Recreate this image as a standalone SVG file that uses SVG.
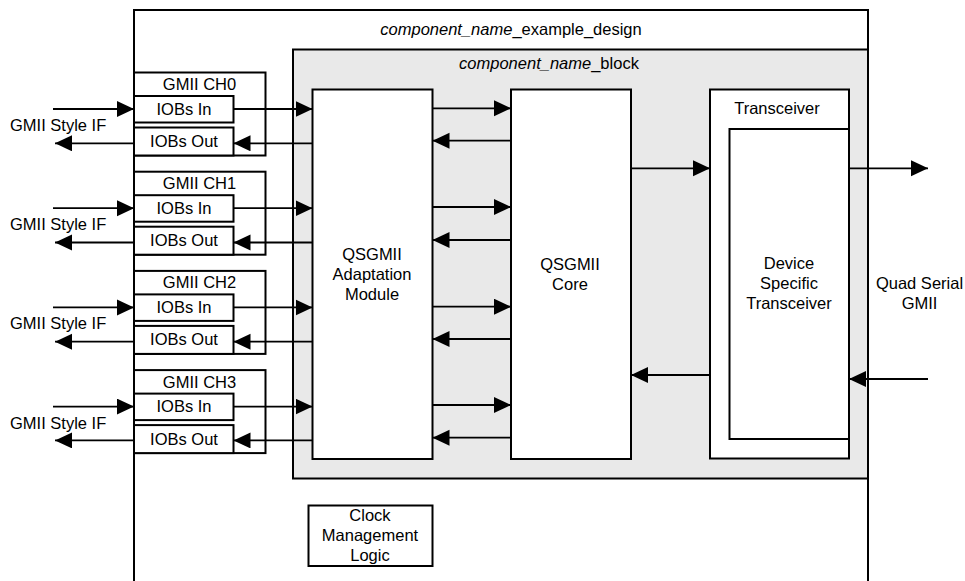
<svg xmlns="http://www.w3.org/2000/svg" width="965" height="581" viewBox="0 0 965 581">
<style>
.box{fill:#fff;stroke:#000;stroke-width:2}
.blk{fill:#e9e9e9;stroke:#000;stroke-width:2}
.t{font-family:"Liberation Sans",Arial,sans-serif;font-size:16.5px;fill:#000}
.c{text-anchor:middle}
.i{font-style:italic}
.w{stroke:#000;stroke-width:1.8;fill:none;marker-end:url(#ah)}
</style>
<defs>
<marker id="ah" markerUnits="userSpaceOnUse" markerWidth="18" markerHeight="17" refX="17" refY="8" orient="auto">
<path d="M0,0 L17,8 L0,16 Z" fill="#000"/>
</marker>
</defs>
<rect width="965" height="581" fill="#fff"/>
<g id="example_design">
<path d="M134,581 V10 H868 V581" fill="none" stroke="#000" stroke-width="2"/>
<text class="t c" x="511" y="34.5"><tspan class="i">component_name</tspan>_example_design</text>
</g>
<g id="block">
<rect class="blk" x="293" y="49.5" width="575" height="429"/>
<text class="t c" x="549" y="68.5"><tspan class="i">component_name</tspan>_block</text>
</g>
<g id="adaptation">
<rect class="box" x="312.5" y="89.5" width="120" height="369.5"/>
<text class="t c" x="372" y="260">QSGMII</text>
<text class="t c" x="372" y="280">Adaptation</text>
<text class="t c" x="372" y="300">Module</text>
</g>
<g id="core">
<rect class="box" x="511" y="89.5" width="120" height="369.5"/>
<text class="t c" x="570" y="270">QSGMII</text>
<text class="t c" x="570" y="290">Core</text>
</g>
<g id="transceiver">
<rect class="box" x="710" y="89.5" width="139" height="369"/>
<text class="t c" x="777" y="114">Transceiver</text>
</g>
<g id="device">
<rect class="box" x="729.5" y="129" width="119.5" height="310"/>
<text class="t c" x="789" y="269">Device</text>
<text class="t c" x="789" y="289">Specific</text>
<text class="t c" x="789" y="309">Transceiver</text>
</g>
<g id="clock">
<rect class="box" x="308.5" y="505.5" width="124" height="60.5"/>
<text class="t c" x="370" y="521">Clock</text>
<text class="t c" x="370" y="541">Management</text>
<text class="t c" x="370" y="561">Logic</text>
</g>
<g id="ch0">
<rect class="box" x="134" y="72.5" width="131.5" height="83"/>
<text class="t c" x="199.5" y="90">GMII CH0</text>
<rect class="box" x="134" y="96" width="99.5" height="26.5"/>
<text class="t c" x="184" y="114.5">IOBs In</text>
<rect class="box" x="134" y="127.5" width="99.5" height="28"/>
<text class="t c" x="184" y="147">IOBs Out</text>
</g>
<g id="ch1">
<rect class="box" x="134" y="171.7" width="131.5" height="83"/>
<text class="t c" x="199.5" y="189.2">GMII CH1</text>
<rect class="box" x="134" y="195.2" width="99.5" height="26.5"/>
<text class="t c" x="184" y="213.7">IOBs In</text>
<rect class="box" x="134" y="226.7" width="99.5" height="28"/>
<text class="t c" x="184" y="246.2">IOBs Out</text>
</g>
<g id="ch2">
<rect class="box" x="134" y="270.9" width="131.5" height="83"/>
<text class="t c" x="199.5" y="288.4">GMII CH2</text>
<rect class="box" x="134" y="294.4" width="99.5" height="26.5"/>
<text class="t c" x="184" y="312.9">IOBs In</text>
<rect class="box" x="134" y="325.9" width="99.5" height="28"/>
<text class="t c" x="184" y="345.4">IOBs Out</text>
</g>
<g id="ch3">
<rect class="box" x="134" y="370.1" width="131.5" height="83"/>
<text class="t c" x="199.5" y="387.6">GMII CH3</text>
<rect class="box" x="134" y="393.6" width="99.5" height="26.5"/>
<text class="t c" x="184" y="412.1">IOBs In</text>
<rect class="box" x="134" y="425.1" width="99.5" height="28"/>
<text class="t c" x="184" y="444.6">IOBs Out</text>
</g>
<g id="labels">
<text class="t" x="10" y="131">GMII Style IF</text>
<text class="t" x="10" y="230.2">GMII Style IF</text>
<text class="t" x="10" y="329.4">GMII Style IF</text>
<text class="t" x="10" y="428.6">GMII Style IF</text>
<text class="t c" x="919.5" y="289">Quad Serial</text>
<text class="t c" x="919.5" y="309">GMII</text>
</g>
<g id="connectors">
<path class="w" d="M53,109 H134"/>
<path class="w" d="M134,143.3 H55"/>
<path class="w" d="M233.5,109 H312.5"/>
<path class="w" d="M312.5,143.3 H233.5"/>
<path class="w" d="M53,208.2 H134"/>
<path class="w" d="M134,242.5 H55"/>
<path class="w" d="M233.5,208.2 H312.5"/>
<path class="w" d="M312.5,242.5 H233.5"/>
<path class="w" d="M53,307.4 H134"/>
<path class="w" d="M134,341.7 H55"/>
<path class="w" d="M233.5,307.4 H312.5"/>
<path class="w" d="M312.5,341.7 H233.5"/>
<path class="w" d="M53,406.6 H134"/>
<path class="w" d="M134,440.4 H55"/>
<path class="w" d="M233.5,406.6 H312.5"/>
<path class="w" d="M312.5,440.4 H233.5"/>
<path class="w" d="M432.5,108.3 H511"/>
<path class="w" d="M511,140.7 H432.5"/>
<path class="w" d="M432.5,207 H511"/>
<path class="w" d="M511,240 H432.5"/>
<path class="w" d="M432.5,306.7 H511"/>
<path class="w" d="M511,339 H432.5"/>
<path class="w" d="M432.5,405 H511"/>
<path class="w" d="M511,437.7 H432.5"/>
<path class="w" d="M631,168.3 H710"/>
<path class="w" d="M849,168.3 H928"/>
<path class="w" d="M710,375 H631"/>
<path class="w" d="M928,379 H849"/>
</g>
</svg>
